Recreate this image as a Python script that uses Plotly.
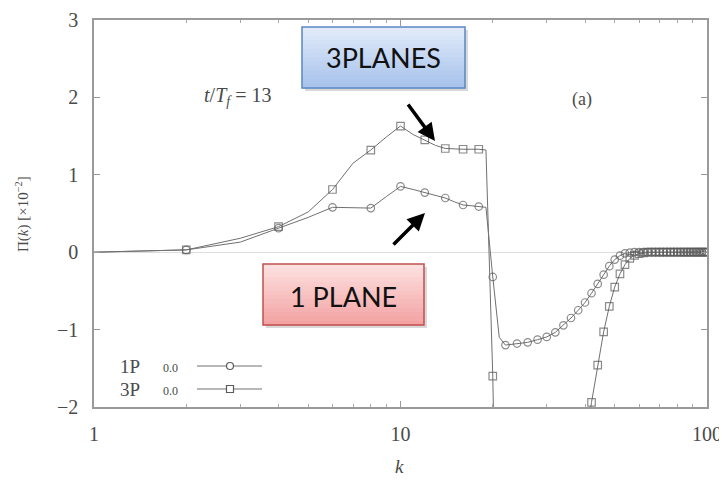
import numpy as np
import plotly.graph_objects as go

# ---------------- data ----------------
k_vals = [1, 2, 3, 4, 5, 6, 7, 8, 9, 10, 11, 12, 13, 14, 15, 16, 17, 18, 19, 20, 21,
          22, 24, 26, 28, 30, 32, 34, 36, 38, 40, 42, 44, 46, 48, 50, 52, 54, 56, 58,
          60, 62, 64, 66, 68, 70, 72, 74, 76, 78, 80, 82, 84, 86, 88, 90, 92, 94, 96, 98, 100]

pi_1plane = [0.0, 0.03, 0.13, 0.31, 0.45, 0.58, 0.57, 0.57, 0.72, 0.85, 0.81, 0.77, 0.73,
             0.70, 0.65, 0.61, 0.60, 0.59, 0.58, -0.32, -1.10,
             -1.20, -1.18, -1.165, -1.13, -1.095, -1.035, -0.945, -0.85, -0.75, -0.65,
             -0.53, -0.41, -0.29, -0.18, -0.095, -0.045, -0.015, -0.005, 0.0,
             0.0, 0.0, 0.0, 0.0, 0.0, 0.0, 0.0, 0.0, 0.0, 0.0, 0.0, 0.0, 0.0, 0.0, 0.0,
             0.0, 0.0, 0.0, 0.0, 0.0, 0.0]

pi_3planes = [0.0, 0.03, 0.18, 0.33, 0.52, 0.81, 1.15, 1.32, 1.49, 1.63, 1.52, 1.45, 1.38,
              1.34, 1.33, 1.33, 1.33, 1.33, 1.32, -1.60, -6.0,
              -6.5, -6.8, -6.7, -6.3, -5.7, -5.0, -4.3, -3.6, -3.0, -2.5,
              -1.94, -1.46, -1.03, -0.70, -0.45, -0.28, -0.16, -0.08, -0.04,
              -0.02, -0.01, 0.0, 0.0, 0.0, 0.0, 0.0, 0.0, 0.0, 0.0, 0.0, 0.0, 0.0, 0.0, 0.0,
              0.0, 0.0, 0.0, 0.0, 0.0, 0.0]

series_names = ["1P", "3P"]
legend_values = ["0.0", "0.0"]
y_ticks = [-2, -1, 0, 1, 2, 3]
x_ticks = [1, 10, 100]
x_minor_ticks = [2, 3, 4, 5, 6, 7, 8, 9, 20, 30, 40, 50, 60, 70, 80, 90]

# ---------------- layout geometry (page pixels) ----------------
W, H = 727, 481
OFF = 8                      # page body margin
PL, PT, PR, PB = 94, 20, 707, 407   # desired plot box in page pixels
PW, PH = PR - PL, PB - PT
L, T = PL - OFF, PT - OFF
R = W - L - PW
B = H - T - PH


def px(x, y):
    """page pixel -> paper coords"""
    return (x - PL) / PW, (PB - y) / PH


GRAY = "#707070"
TXT = "#4a4a4a"
SERIF = "Liberation Serif"

k_arr = np.array(k_vals)
msize = np.where((k_arr % 2 == 0), 7.5, 0)

fig = go.Figure()
fig.add_trace(go.Scatter(x=k_vals, y=pi_1plane, mode="lines+markers", name=series_names[0],
                         line=dict(color=GRAY, width=1),
                         marker=dict(symbol="circle-open", size=msize, color="#5a5a5a",
                                     line=dict(width=1.2)),
                         showlegend=False))
fig.add_trace(go.Scatter(x=k_vals, y=pi_3planes, mode="lines+markers", name=series_names[1],
                         line=dict(color=GRAY, width=1),
                         marker=dict(symbol="square-open", size=msize, color="#5a5a5a",
                                     line=dict(width=1.2)),
                         showlegend=False))

shapes = []
annotations = []


def text_at(x, y, text, size, family=SERIF, color=TXT, **kw):
    ax_, ay_ = px(x, y)
    annotations.append(dict(x=ax_, y=ay_, xref="paper", yref="paper", text=text,
                            showarrow=False, xanchor="center", yanchor="middle",
                            font=dict(family=family, size=size, color=color), **kw))


def grad_box(x0, y0, x1, y1, top, bottom, border, n=14):
    a0, b0 = px(x0 + 3, y1 + 3)
    a1, b1 = px(x1 + 3, y0 + 3)
    shapes.append(dict(type="rect", xref="paper", yref="paper", x0=a0, y0=b0, x1=a1, y1=b1,
                       fillcolor="rgba(0,0,0,0.15)", line=dict(width=0), layer="above"))
    tc = np.array([int(top[i:i + 2], 16) for i in (1, 3, 5)])
    bc = np.array([int(bottom[i:i + 2], 16) for i in (1, 3, 5)])
    hgt = (y1 - y0) / n
    for i in range(n):
        c = tc + (bc - tc) * (i + 0.5) / n
        ya = y0 + i * hgt
        yb = y0 + (i + 1) * hgt + 0.6
        p0 = px(x0, yb)
        p1 = px(x1, ya)
        shapes.append(dict(type="rect", xref="paper", yref="paper", x0=p0[0], y0=p0[1],
                           x1=p1[0], y1=p1[1],
                           fillcolor="rgb(%d,%d,%d)" % tuple(c.astype(int)),
                           line=dict(width=0), layer="above"))
    p0 = px(x0, y1)
    p1 = px(x1, y0)
    shapes.append(dict(type="rect", xref="paper", yref="paper", x0=p0[0], y0=p0[1],
                       x1=p1[0], y1=p1[1], line=dict(color=border, width=1.5), layer="above"))


# annotation boxes
grad_box(302, 27, 465, 88, "#e3ecfa", "#a6c2ec", "#5a86c4")
grad_box(263, 264, 424, 325, "#fde3e3", "#f3a1a1", "#c0504d")
text_at(383.5, 58, "3PLANES", 27, family="Lato", color="#111111")
text_at(343.5, 296, "1 PLANE", 27, family="Lato", color="#111111")

# arrows
for (hx_, hy_), (dx, dy) in [((435, 141), (-28, -38)), ((425, 213), (-33, 33))]:
    hx, hy = px(hx_, hy_)
    annotations.append(dict(x=hx, y=hy, xref="paper", yref="paper", ax=dx, ay=dy,
                            axref="pixel", ayref="pixel", text="", showarrow=True,
                            arrowhead=2, arrowsize=1.0, arrowwidth=3.5, arrowcolor="#000000"))

# in-plot labels
text_at(237, 97, "<i>t</i>/<i>T<sub>f</sub></i> = 13", 20)
text_at(582, 100, "(a)", 18)

# axis titles
text_at(399, 466, "<i>k</i>", 19)
text_at(23, 214, "Π(<i>k</i>) [×10<sup>−2</sup>]", 15, textangle=-90)

# manual legend (text left of sample, gnuplot style)
rows_y = [366, 389]
symbols = ["circle", "square"]
for name, val, yy, sym in zip(series_names, legend_values, rows_y, symbols):
    text_at(130, yy, name, 19)
    text_at(170, yy + 2, val, 12)
    a0 = px(197, yy)
    a1 = px(262, yy)
    shapes.append(dict(type="line", xref="paper", yref="paper", x0=a0[0], y0=a0[1],
                       x1=a1[0], y1=a1[1], line=dict(color=GRAY, width=1)))
    m0 = px(226.5, yy + 3.5)
    m1 = px(233.5, yy - 3.5)
    shapes.append(dict(type="circle" if sym == "circle" else "rect", xref="paper", yref="paper",
                       x0=m0[0], y0=m0[1], x1=m1[0], y1=m1[1],
                       fillcolor="white", line=dict(color="#5a5a5a", width=1.2)))

fig.update_layout(
    width=W, height=H,
    margin=dict(l=L, r=R, t=T, b=B, autoexpand=False),
    paper_bgcolor="white", plot_bgcolor="white",
    shapes=shapes, annotations=annotations,
    showlegend=False,
    xaxis=dict(type="log", range=[0, 2], tickvals=x_ticks, ticktext=[str(v) for v in x_ticks],
               automargin=False,
               ticks="inside", ticklen=6, tickcolor="#999999",
               minor=dict(tickmode="array", tickvals=x_minor_ticks, ticks="inside", ticklen=3,
                          tickcolor="#aaaaaa", showgrid=False),
               showline=True, linecolor="#9a9a9a", linewidth=1.5, mirror="allticks",
               showgrid=False, zeroline=False,
               tickfont=dict(family=SERIF, size=20, color=TXT), ticklabelstandoff=8),
    yaxis=dict(range=[-2, 3], tickvals=y_ticks, ticks="inside", ticklen=6, tickcolor="#999999",
               automargin=False,
               showline=True, linecolor="#9a9a9a", linewidth=1.5, mirror="allticks",
               showgrid=False, zeroline=True, zerolinecolor="#dddddd", zerolinewidth=1,
               tickfont=dict(family=SERIF, size=20, color=TXT), ticklabelstandoff=10),
)

fig.write_html("out.html")
